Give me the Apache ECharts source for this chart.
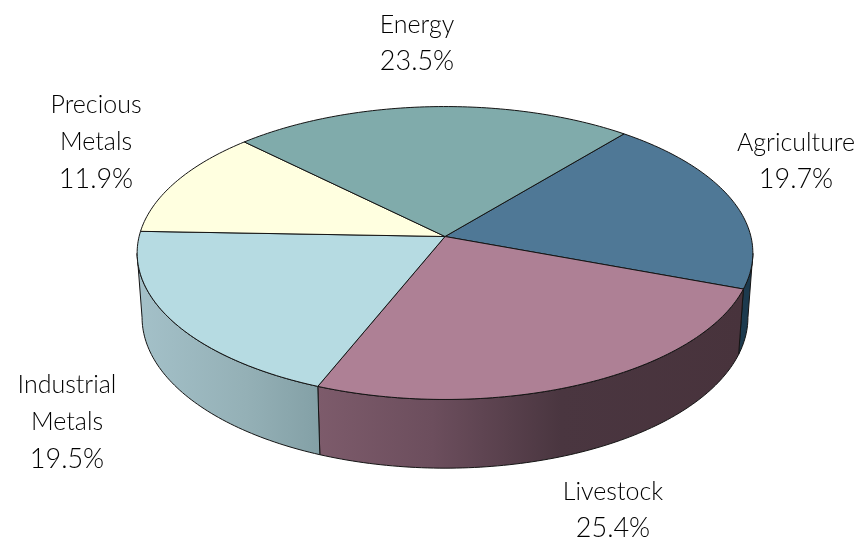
<!DOCTYPE html>
<html>
<head>
<meta charset="utf-8">
<style>html,body{margin:0;padding:0;background:#fff}#chart{width:862px;height:540px}</style>
<script src="https://cdn.jsdelivr.net/npm/echarts@6/dist/echarts.min.js"></script>
</head>
<body>
<div id="chart"></div>
<script>
// Portfolio weights, clockwise from the upper right of the disc
const sectors = ['Agriculture', 'Livestock', 'Industrial\nMetals', 'Precious\nMetals', 'Energy'];
const shares = [19.7, 25.4, 19.5, 11.9, 23.5];

// Slice colours
const topColors = ['#4f7896', '#ae8095', '#b6dbe2', '#ffffe0', '#80abab'];
const sideStops = [
  [[0, '#1c3a4e'], [1, '#1c3a4e']],
  [[0, '#7d5b6b'], [0.27, '#6c4e5d'], [0.57, '#4a3640'], [1, '#48333c']],
  [[0, '#a4c1c9'], [0.6, '#94b0b6'], [1, '#83a0a6']],
  [[0, '#cccc99'], [1, '#cccc99']],
  [[0, '#5f8585'], [1, '#5f8585']]
];

// Text anchors in page pixels
const labelCentres = [[796, 161], [613, 510], [67, 422], [96, 142], [417, 43]];

// Perspective of the tilted disc
const startDeg = 50.5;
const tilt = 0.1127;
const rimDeg = 6.6;          // where the near rim leaves the silhouette
const baseScaleX = 0.984;
const baseScaleY = 1.03;
const baseShiftY = -0.4413;

const rad = d => d * Math.PI / 180;
const onTop = deg => {
  const c = Math.cos(rad(deg)), s = Math.sin(rad(deg)), w = 1 + tilt * s;
  return [c / w, s / w];
};
const onBase = deg => {
  const p = onTop(deg);
  return [p[0] * baseScaleX, p[1] * baseScaleY + baseShiftY];
};

// Clockwise angular extent of each slice, from its share
function sliceSpan(i) {
  const before = shares.slice(0, i).reduce((a, b) => a + b, 0);
  return [startDeg - before * 3.6, startDeg - (before + shares[i]) * 3.6];
}
function arc(from, to, project, api) {
  const n = Math.max(2, Math.ceil(Math.abs(from - to)));
  const pts = [];
  for (let k = 0; k <= n; k++) pts.push(api.coord(project(from + (to - from) * k / n)));
  return pts;
}
const edge = { stroke: '#141414', lineWidth: 1, lineJoin: 'round' };

function renderSide(params, api) {
  const i = params.dataIndex;
  const span = sliceSpan(i);
  // The visible wall runs between the two silhouette tangents
  const from = Math.min(span[0], -rimDeg);
  const to = Math.max(span[1], -180 + rimDeg);
  if (from <= to) return { type: 'group', children: [] };
  const pts = arc(from, to, onTop, api).concat(arc(to, from, onBase, api));
  const stops = sideStops[i].map(s => ({ offset: s[0], color: s[1] }));
  return {
    type: 'polygon',
    shape: { points: pts },
    style: Object.assign({
      fill: { type: 'linear', x: 0, y: 0, x2: 1, y2: 0, colorStops: stops }
    }, edge)
  };
}
function renderTop(params, api) {
  const i = params.dataIndex;
  const span = sliceSpan(i);
  const pts = arc(span[0], span[1], onTop, api);
  pts.push(api.coord([0, 0]));
  return {
    type: 'polygon',
    shape: { points: pts },
    style: Object.assign({ fill: topColors[i] }, edge)
  };
}
function renderLabel(params, api) {
  const i = params.dataIndex;
  const nameLines = sectors[i].split('\n').map(t => '{n|' + t + '}');
  return {
    type: 'text',
    style: {
      text: nameLines.concat('{v|' + api.value(1).toFixed(1) + '%}').join('\n'),
      x: labelCentres[i][0],
      y: labelCentres[i][1],
      align: 'center',
      verticalAlign: 'middle',
      rich: {
        n: { fill: '#000', font: '300 25px Lato', lineHeight: 37 },
        v: { fill: '#000', font: '300 27px Lato', lineHeight: 37 }
      }
    }
  };
}

const rows = shares.map((v, i) => [i, v]);
const chart = echarts.init(document.getElementById('chart'), null, { renderer: 'canvas' });
chart.setOption({
  animation: false,
  backgroundColor: '#fff',
  grid: { left: 139.1, width: 611.8, top: 91.9, height: 289.2 },
  xAxis: { type: 'value', min: -1, max: 1, show: false },
  yAxis: { type: 'value', min: -1, max: 1, show: false },
  series: [
    { type: 'custom', data: rows, renderItem: renderSide, silent: true, clip: false, z: 1 },
    { type: 'custom', data: rows, renderItem: renderTop, silent: true, clip: false, z: 2 },
    { type: 'custom', data: rows, renderItem: renderLabel, silent: true, clip: false, z: 3 }
  ]
});
</script>
</body>
</html>
